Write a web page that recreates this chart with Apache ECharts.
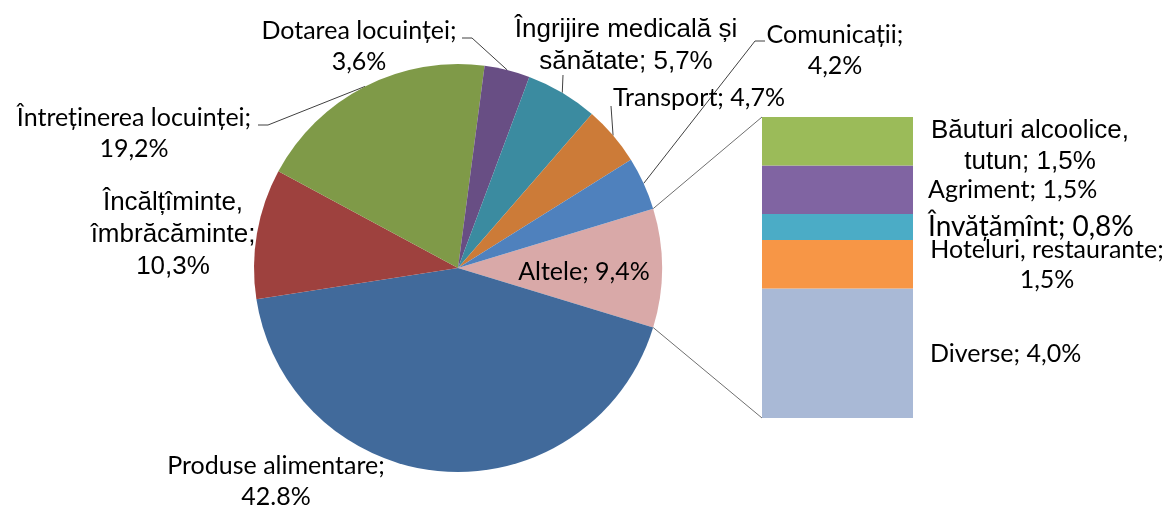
<!DOCTYPE html>
<html>
<head>
<meta charset="utf-8">
<script src="https://cdn.jsdelivr.net/npm/echarts@6/dist/echarts.min.js"></script>
<style>
    html, body { margin: 0; padding: 0; background: #fff; }
    #chart-container { width: 1166px; height: 506px; }
</style>
</head>
<body>
<div id="chart-container"></div>
<script>
// Structura cheltuielilor de consum (%)
const pieNames = ['Altele', 'Produse alimentare', 'Încălțîminte, îmbrăcăminte', 'Întreținerea locuinței',
    'Dotarea locuinței', 'Îngrijire medicală și sănătate', 'Transport', 'Comunicații'];
const pieValues = [9.4, 42.8, 10.3, 19.2, 3.6, 5.7, 4.7, 4.2];
const pieLabels = ['Altele; 9,4%', 'Produse alimentare;\n42.8%', 'Încălțîminte,\nîmbrăcăminte;\n10,3%',
    'Întreținerea locuinței;\n19,2%', 'Dotarea locuinței;\n3,6%', 'Îngrijire medicală și\nsănătate; 5,7%',
    'Transport; 4,7%', 'Comunicații;\n4,2%'];

// Detalierea "Altele" (de sus în jos)
const barNames = ['Băuturi alcoolice, tutun', 'Agriment', 'Învățămînt', 'Hoteluri, restaurante', 'Diverse'];
const barValues = [1.5, 1.5, 0.8, 1.5, 4.0];
const barLabels = ['Băuturi alcoolice,\ntutun; 1,5%', 'Agriment; 1,5%', 'Învățămînt; 0,8%',
    'Hoteluri, restaurante;\n1,5%', 'Diverse; 4,0%'];

const pieColors = ['#d9a9a8', '#416a9b', '#9e413e', '#7f9a48', '#684e84', '#3b8ba0', '#cc7b38', '#4f81bd'];
const barColors = ['#9bbb59', '#8064a2', '#4bacc6', '#f79646', '#a9b9d6'];

const CAL = 'Lato';
const ARIAL = 'Liberation Sans';

// pozitii etichete (x, y = centru) si capete linii de ghidare
const pieLabelPos = [
    { x: 584, y: 272, font: CAL, size: 25 },
    { x: 276, y: 481, font: CAL, size: 25 },
    { x: 173, y: 235, font: ARIAL, size: 26 },
    { x: 134, y: 133, font: CAL, size: 25, guide: [[268, 125], [258, 125]] },
    { x: 359, y: 46, font: CAL, size: 25, guide: [[472, 38], [462, 38]] },
    { x: 626, y: 46, font: ARIAL, size: 26, guide: [[563, 75]] },
    { x: 699, y: 98, font: CAL, size: 25, guide: [[611, 106]] },
    { x: 835, y: 50, font: CAL, size: 25, guide: [[755, 41], [765, 41]] }
];
const barLabelPos = [
    { x: 268, align: 'center', dy: 5, font: ARIAL, size: 26 },
    { x: 166, align: 'left', dy: 0, font: CAL, size: 25 },
    { x: 166, align: 'left', dy: 0, font: CAL, size: 28 },
    { x: 285, align: 'center', dy: 1, font: CAL, size: 25 },
    { x: 168, align: 'left', dy: 1, font: CAL, size: 25 }
];

var dom = document.getElementById('chart-container');
var myChart = echarts.init(dom, null, { renderer: 'canvas' });

const pieData = pieNames.map(function (name, i) {
    const p = pieLabelPos[i];
    return {
        name: name,
        value: pieValues[i],
        itemStyle: { color: pieColors[i] },
        label: { fontFamily: p.font, fontSize: p.size, lineHeight: Math.round(p.size * 1.24) },
        labelLine: { show: !!p.guide }
    };
});

// stiva: de jos in sus
const barSeries = [];
for (let i = barNames.length - 1; i >= 0; i--) {
    const p = barLabelPos[i];
    barSeries.push({
        name: barNames[i],
        type: 'bar',
        stack: 'altele',
        barWidth: '100%',
        xAxisIndex: 0,
        yAxisIndex: 0,
        silent: true,
        itemStyle: { color: barColors[i] },
        label: {
            show: true,
            position: [p.x, '50%'],
            offset: [0, p.dy],
            align: p.align,
            verticalAlign: 'middle',
            color: '#000',
            fontFamily: p.font,
            fontSize: p.size,
            lineHeight: Math.round(p.size * 1.2),
            formatter: barLabels[i]
        },
        data: [barValues[i]]
    });
}

var option = {
    animation: false,
    grid: { left: 762, top: 117, width: 151, height: 301 },
    xAxis: { type: 'category', data: ['Altele'], show: false },
    yAxis: { type: 'value', min: 0, max: 'dataMax', show: false },
    series: [{
        name: 'Cheltuieli',
        type: 'pie',
        center: [458, 268],
        radius: 204,
        startAngle: 16.92,
        clockwise: true,
        avoidLabelOverlap: false,
        silent: true,
        itemStyle: { borderWidth: 0 },
        label: {
            show: true,
            position: 'outside',
            color: '#000',
            formatter: function (p) { return pieLabels[p.dataIndex]; }
        },
        labelLine: { show: true, lineStyle: { color: '#404040', width: 1 } },
        labelLayout: function (params) {
            const p = pieLabelPos[params.dataIndex];
            const res = { x: p.x, y: p.y, align: 'center', verticalAlign: 'middle' };
            if (p.guide && params.labelLinePoints) {
                res.labelLinePoints = [params.labelLinePoints[0]].concat(p.guide);
            }
            return res;
        },
        data: pieData
    }].concat(barSeries)
};

myChart.setOption(option);

// linii de legatura intre felia "Altele" si coloana
const pieLayout = myChart.getModel().getSeriesByIndex(0).getData().getItemLayout(0);
const topBar = myChart.getModel().getSeriesByIndex(barSeries.length).getData().getItemLayout(0);
const bottomBar = myChart.getModel().getSeriesByIndex(1).getData().getItemLayout(0);
const barTop = Math.min(topBar.y, topBar.y + topBar.height);
const barBottom = Math.max(bottomBar.y, bottomBar.y + bottomBar.height);
const pA = [pieLayout.cx + pieLayout.r * Math.cos(pieLayout.startAngle), pieLayout.cy + pieLayout.r * Math.sin(pieLayout.startAngle)];
const pB = [pieLayout.cx + pieLayout.r * Math.cos(pieLayout.endAngle), pieLayout.cy + pieLayout.r * Math.sin(pieLayout.endAngle)];
const upper = pA[1] < pB[1] ? pA : pB;
const lower = pA[1] < pB[1] ? pB : pA;

myChart.setOption({
    graphic: [
        { type: 'line', silent: true, shape: { x1: upper[0], y1: upper[1], x2: topBar.x, y2: barTop }, style: { stroke: '#6f6f6f', lineWidth: 1 } },
        { type: 'line', silent: true, shape: { x1: lower[0], y1: lower[1], x2: bottomBar.x, y2: barBottom }, style: { stroke: '#6f6f6f', lineWidth: 1 } }
    ]
});
</script>
</body>
</html>
